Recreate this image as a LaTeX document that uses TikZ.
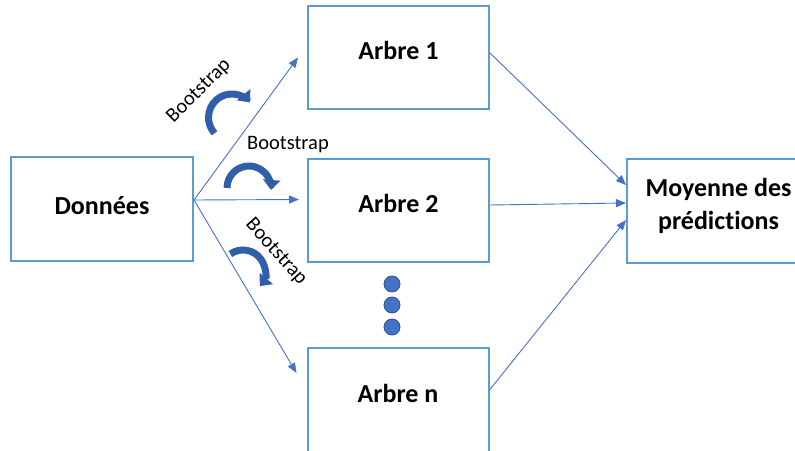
\documentclass[tikz,border=0pt]{standalone}
\usepackage{fontspec}
\setmainfont{Carlito}[Ligatures={NoCommon}]
\usetikzlibrary{arrows.meta}
\definecolor{boxblue}{HTML}{5B9BD5}
\definecolor{arrblue}{HTML}{4472C4}
\definecolor{curvblue}{HTML}{2F5FA8}
\definecolor{dotedge}{HTML}{2F528F}
\begin{document}
\begin{tikzpicture}[x=1pt,y=1pt,
  box/.style={draw=boxblue,line width=2pt,minimum width=181pt,minimum height=103pt,inner sep=0pt,font=\fontsize{26}{33}\selectfont\bfseries},
  conn/.style={draw=arrblue,line width=0.9pt,-{Triangle[length=10pt,width=8pt]}},
  boot/.style={font=\fontsize{20.5}{24}\selectfont,inner sep=0pt},
  curv/.style={draw=curvblue,line width=7pt,line cap=butt,-{Triangle[length=10pt,width=17pt]}},
  dotnode/.style={circle,fill=arrblue,draw=dotedge,line width=0.8pt,minimum size=16pt,inner sep=0pt}]
\useasboundingbox (0,0) rectangle (795,450);
% boxes
\node[box,minimum width=182pt,minimum height=104pt,text height=17pt,text depth=5pt] (d) at (102,241) {Données};
\node[box,text height=17pt,text depth=13pt] (a1) at (398.5,392.5) {Arbre 1};
\node[box,text height=17pt,text depth=13pt] (a2) at (398.5,239.5) {Arbre 2};
\node[box,minimum height=104pt,text height=17pt,text depth=13pt] (an) at (398,50) {Arbre n};
\node[box,minimum width=183pt,minimum height=104pt] (m) at (718.5,239) {};
\node[font=\fontsize{26}{33}\selectfont\bfseries,align=center,inner sep=0pt] (mt) at ([yshift=5pt]m.center) {Moyenne des\\prédictions};
% dots
\node[dotnode] (p1) at (392,166) {};
\node[dotnode] (p2) at (392,145) {};
\node[dotnode] (p3) at (392,123) {};
% connectors
\draw[conn] ([yshift=9pt]d.east) -- ([xshift=-9pt]a1.west);
\draw[conn] ([yshift=9pt]d.east) -- ([shift={(-8pt,11pt)}]a2.west);
\draw[conn] ([yshift=9pt]d.east) -- ([shift={(-10pt,27pt)}]an.west);
\draw[conn] ([yshift=4.5pt]a1.east) -- ([yshift=26pt]m.west);
\draw[conn] ([yshift=5.5pt]a2.east) -- ([yshift=8pt]m.west);
\draw[conn] ([yshift=10pt]an.east) -- ([yshift=-9pt]m.west);
% bootstrap labels
\node[boot,rotate=45] (b1) at (199,359) {Bootstrap};
\node[boot,anchor=base] (b2) at (288,300) {Bootstrap};
\node[boot,rotate=-48] (b3) at (276,198) {Bootstrap};
% curved arrows
\draw[curv] (232,332.5) ++(222:23.5) arc[start angle=222, end angle=40, radius=23.5];
\draw[curv] (249,262) ++(180:22) arc[start angle=180, end angle=-5, radius=22];
\draw[curv] (243,178) ++(125:22) arc[start angle=125, end angle=-40, radius=22];
\end{tikzpicture}
\end{document}
